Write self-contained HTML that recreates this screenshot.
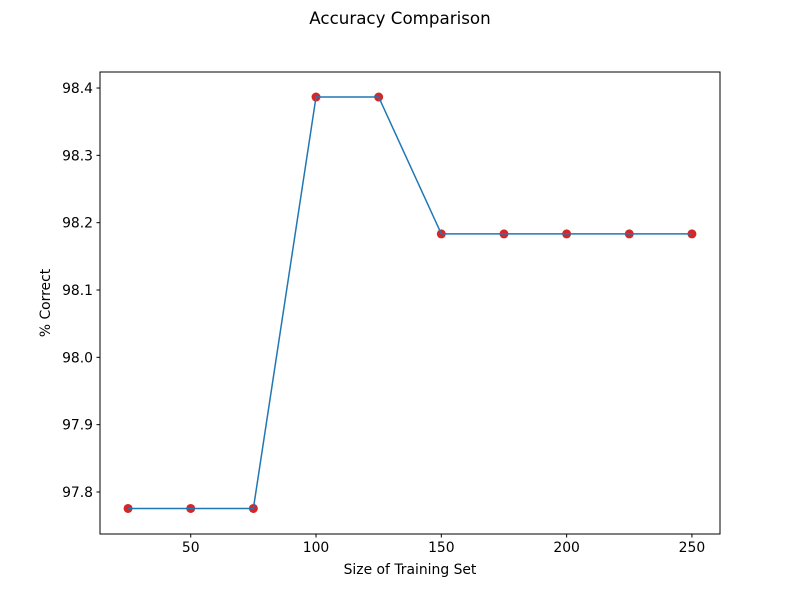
<!DOCTYPE html>
<html><head><meta charset="utf-8"><style>
body{margin:0;background:#fff;}
svg{display:block;font-family:"DejaVu Sans","Liberation Sans",sans-serif;}
</style></head><body>
<svg id="chart" width="800" height="600">
<rect width="800" height="600" fill="#fff"/>
<text x="400" y="24" text-anchor="middle" font-size="16.7">Accuracy Comparison</text>
<g id="plot"></g>
<rect x="100" y="72" width="620" height="462" fill="none" stroke="#000" stroke-width="1"/>
<text x="410" y="574" text-anchor="middle" font-size="13.9">Size of Training Set</text>
<text transform="translate(50,303) rotate(-90)" text-anchor="middle" font-size="13.9">% Correct</text>
</svg>
<script>
const xValues=[25,50,75,100,125,150,175,200,225,250];
const yValues=[97.7755,97.7755,97.7755,98.3866,98.3866,98.1833,98.1833,98.1833,98.1833,98.1833];
const xTicks=[50,100,150,200,250];
const yTicks=[97.8,97.9,98.0,98.1,98.2,98.3,98.4];
const yTickLabels=["97.8","97.9","98.0","98.1","98.2","98.3","98.4"];
const X0=100,X1=720,Y0=72,Y1=534;
const xMin=13.8,xMax=261.2,yMin=97.7376,yMax=98.4238;
function sx(v){return X0+(v-xMin)/(xMax-xMin)*(X1-X0);}
function sy(v){return Y1-(v-yMin)/(yMax-yMin)*(Y1-Y0);}
const NS="http://www.w3.org/2000/svg";
const g=document.getElementById('plot');
function mk(t,a){const e=document.createElementNS(NS,t);for(const k in a)e.setAttribute(k,a[k]);g.appendChild(e);return e;}
xTicks.forEach(v=>{
 const l=mk('line',{x1:sx(v),x2:sx(v),y1:Y1,y2:Y1+3.5,stroke:'#000'});
 
 
 const t=mk('text',{x:sx(v),y:Y1+18,'text-anchor':'middle','font-size':13.9});
 t.textContent=v;
 
 
});
yTicks.forEach((v,i)=>{
 const l=mk('line',{x1:X0-3.5,x2:X0,y1:sy(v),y2:sy(v),stroke:'#000'});
 
 
 const t=mk('text',{x:X0-7,y:sy(v)+5,'text-anchor':'end','font-size':13.9});
 t.textContent=yTickLabels[i];
 
 
});
xValues.forEach((v,i)=>{
 const c=mk('circle',{cx:sx(v),cy:sy(yValues[i]),r:4.5,fill:'#d62728'});
 
 
});
const p=mk('polyline',{points:xValues.map((v,i)=>sx(v)+','+sy(yValues[i])).join(' '),fill:'none',stroke:'#1f77b4','stroke-width':1.5});


</script>
</body></html>
